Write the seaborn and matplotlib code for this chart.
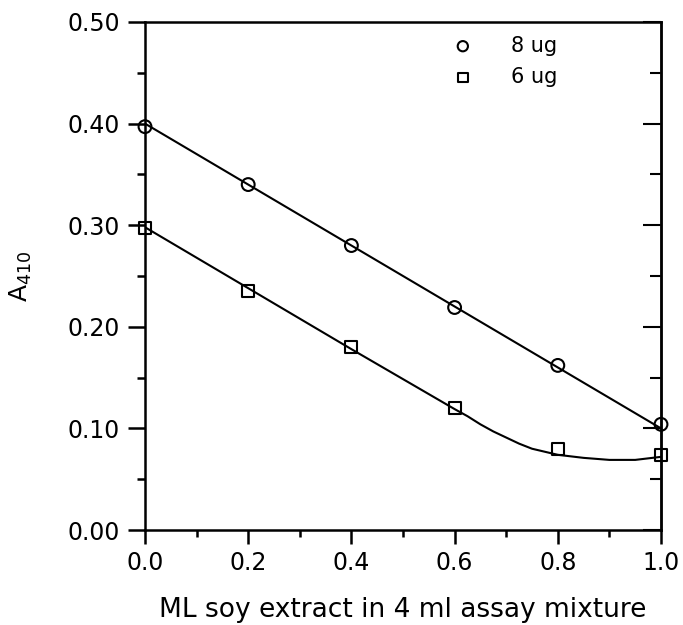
import matplotlib
matplotlib.use("Agg")
import matplotlib.pyplot as plt
import seaborn as sns
from matplotlib.ticker import MultipleLocator, FormatStrFormatter

sns.set_style("ticks")
plt.rcParams['font.family'] = ['DejaVu Sans']
plt.rcParams['text.color'] = 'black'
plt.rcParams['axes.labelcolor'] = 'black'
plt.rcParams['xtick.color'] = 'black'
plt.rcParams['ytick.color'] = 'black'

# measured points
x_vals = [0.0, 0.2, 0.4, 0.6, 0.8, 1.0]
a_8ug = [0.397, 0.340, 0.280, 0.219, 0.162, 0.104]
a_6ug = [0.297, 0.235, 0.180, 0.120, 0.080, 0.074]

# fitted curves
fit8_x = [0.0, 1.0]
fit8_y = [0.400, 0.100]
fit6_x = [0.0, 0.2, 0.4, 0.6, 0.625, 0.65, 0.675, 0.70, 0.725, 0.75, 0.775, 0.80, 0.85, 0.90, 0.95, 1.0]
fit6_y = [0.298, 0.238, 0.178, 0.119, 0.112, 0.104, 0.097, 0.091, 0.085, 0.080, 0.077, 0.074, 0.071, 0.069, 0.069, 0.072]

series_labels = ["8 ug", "6 ug"]

fig = plt.figure(figsize=(6.83, 6.25), dpi=100)
ax = fig.add_axes([0.2123, 0.152, 0.7555, 0.8128])

sns.lineplot(x=fit8_x, y=fit8_y, ax=ax, color="black", linewidth=1.5, sort=False)
sns.lineplot(x=fit6_x, y=fit6_y, ax=ax, color="black", linewidth=1.5, sort=False)

sns.scatterplot(x=x_vals, y=a_8ug, ax=ax, marker="o", s=85, facecolors="none",
                edgecolors="black", linewidths=1.5, label=series_labels[0], zorder=5, clip_on=False)
sns.scatterplot(x=x_vals, y=a_6ug, ax=ax, marker="s", s=75, facecolors="none",
                edgecolors="black", linewidths=1.5, label=series_labels[1], zorder=5, clip_on=False)

ax.set_xlim(0, 1.0)
ax.set_ylim(0, 0.5)
ax.xaxis.set_major_locator(MultipleLocator(0.2))
ax.xaxis.set_minor_locator(MultipleLocator(0.1))
ax.yaxis.set_major_locator(MultipleLocator(0.1))
ax.yaxis.set_minor_locator(MultipleLocator(0.05))
ax.xaxis.set_major_formatter(FormatStrFormatter("%.1f"))
ax.yaxis.set_major_formatter(FormatStrFormatter("%.2f"))

for sp in ax.spines.values():
    sp.set_linewidth(1.8)
    sp.set_color("black")

ax.tick_params(axis="both", which="major", direction="out", labelsize=17, width=1.8, color="black")
ax.tick_params(axis="y", which="major", length=12, pad=6)
ax.tick_params(axis="y", which="minor", length=6, width=1.8, direction="out")
ax.tick_params(axis="x", which="major", length=10, pad=5)
ax.tick_params(axis="x", which="minor", length=5, width=1.8, direction="out")
ax.tick_params(top=False, right=False, which="both")

sec = ax.secondary_yaxis("right")
sec.yaxis.set_major_locator(MultipleLocator(0.1))
sec.yaxis.set_minor_locator(MultipleLocator(0.05))
sec.tick_params(which="major", direction="in", length=13, width=1.5, labelright=False, color="black")
sec.tick_params(which="minor", direction="in", length=8, width=1.5, color="black")
sec.spines["right"].set_linewidth(1.8)

ax.set_xlabel("ML soy extract in 4 ml assay mixture", fontsize=19, labelpad=16, color="black")
ax.set_ylabel("A$_{410}$", fontsize=18, labelpad=24, color="black")

leg = ax.legend(loc="upper right", bbox_to_anchor=(0.835, 1.01), frameon=False, fontsize=15,
                handletextpad=1.3, labelspacing=0.55, markerscale=0.8)
for t in leg.get_texts():
    t.set_color("black")

fig.savefig("out.png", dpi=100)
